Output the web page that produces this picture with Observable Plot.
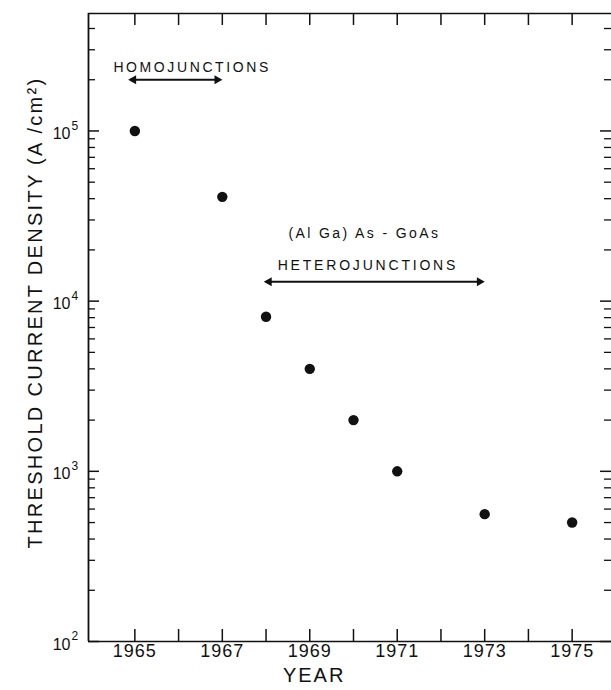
<!DOCTYPE html>
<html><head><meta charset="utf-8">
<script src="https://cdn.jsdelivr.net/npm/d3@7"></script>
<script src="https://cdn.jsdelivr.net/npm/@observablehq/plot@0.6"></script>
<style>
html,body{margin:0;padding:0;background:#fff;overflow:hidden}
svg{display:block}
</style></head><body><div id="chart"></div>
<script>
// ---- data ----
const years = [1965, 1967, 1968, 1969, 1970, 1971, 1973, 1975];
const thresholdDensity = [1.0e5, 4.1e4, 8.1e3, 4.0e3, 2.0e3, 1.0e3, 560, 500];

const xTickYears = [1965, 1966, 1967, 1968, 1969, 1970, 1971, 1972, 1973, 1974, 1975];
const xTickLabels = [1965, 1967, 1969, 1971, 1973, 1975];
const yMajorTicks = [1e2, 1e3, 1e4, 1e5];
const yExponents = ["2", "3", "4", "5"];
const yMinorTicks = [
  200, 300, 400, 500, 600, 700, 800, 900,
  2000, 3000, 4000, 5000, 6000, 7000, 8000, 9000,
  20000, 30000, 40000, 50000, 60000, 70000, 80000, 90000,
  200000, 300000, 400000
];

const noteTexts = ["HOMOJUNCTIONS", "(Al Ga) As - GoAs", "HETEROJUNCTIONS"];
const noteYears = [1966.31, 1970.25, 1970.33];
const noteValues = [2.37e5, 2.49e4, 1.62e4];

const spanStartYears = [1964.9, 1968.0];
const spanEndYears = [1966.95, 1972.95];
const spanValues = [2.0e5, 1.3e4];

const xDomain = [1963.94, 1975.9];
const yDomain = [100, 4.9e5];

const xTitle = "YEAR";
const yTitle = "THRESHOLD CURRENT DENSITY (A /cm²)";

// ---- layout ----
const W = 611, H = 690;
const mL = 88, mR = 0, mT = 13, mB = 49;
const fW = W - mL - mR, fH = H - mT - mB;

const points = years.map((y, i) => ({year: y, density: thresholdDensity[i]}));
const spans = spanStartYears.map((s, i) => ({start: s, end: spanEndYears[i], v: spanValues[i]}));
const notes = noteTexts.map((t, i) => ({text: t, year: noteYears[i], v: noteValues[i]}));

const ink = "#111";
const chart = Plot.plot({
  width: W, height: H,
  marginLeft: mL, marginRight: mR, marginTop: mT, marginBottom: mB,
  style: {fontFamily: "'Liberation Sans', Arial, sans-serif", background: "white", color: ink},
  x: {domain: xDomain, axis: null},
  y: {type: "log", domain: yDomain, axis: null},
  marks: [
    // frame (left, bottom, top)
    Plot.ruleX([xDomain[0]], {stroke: ink, strokeWidth: 1.8}),
    Plot.ruleY([yDomain[0], yDomain[1]], {stroke: ink, strokeWidth: 1.6}),
    // inward ticks
    Plot.tickX(xTickYears, {x: d => d, insetTop: fH - 12, stroke: ink, strokeWidth: 1.5}),
    Plot.tickX(xTickYears, {x: d => d, insetBottom: fH - 12, stroke: ink, strokeWidth: 1.5}),
    Plot.tickY(yMajorTicks, {y: d => d, insetRight: fW - 11, stroke: ink, strokeWidth: 1.5}),
    Plot.tickY(yMinorTicks, {y: d => d, insetRight: fW - 7, stroke: ink, strokeWidth: 1.3}),
    Plot.tickY(yMajorTicks, {y: d => d, insetLeft: fW - 11, stroke: ink, strokeWidth: 1.5}),
    Plot.tickY(yMinorTicks, {y: d => d, insetLeft: fW - 7, stroke: ink, strokeWidth: 1.3}),
    // tick labels
    Plot.text(xTickLabels, {x: d => d, frameAnchor: "bottom", dy: 15, text: d => String(d), fontSize: 18, fill: ink}),
    Plot.text(yMajorTicks, {x: xDomain[0], y: d => d, text: () => "10", textAnchor: "end", dx: -18, dy: 3, fontSize: 16, fill: ink}),
    Plot.text(yMajorTicks, {x: xDomain[0], y: d => d, text: (d, i) => yExponents[i], textAnchor: "start", dx: -17, dy: -5, fontSize: 12, fill: ink}),
    // axis titles
    Plot.text([xTitle], {x: () => 1969.1, frameAnchor: "bottom", dy: 40, text: d => d, fontSize: 20, fill: ink}),
    Plot.text([yTitle], {frameAnchor: "left", textAnchor: "middle", rotate: -90, dx: -53, dy: -15, text: d => d, fontSize: 20, fill: ink}),
    // annotations
    Plot.link(spans, {x1: "start", x2: "end", y1: "v", y2: "v", stroke: ink, strokeWidth: 2}),
    Plot.dot(spans, {x: "start", y: "v", symbol: "triangle", rotate: -90, r: 3.4, dx: 3, fill: ink, stroke: "none"}),
    Plot.dot(spans, {x: "end", y: "v", symbol: "triangle", rotate: 90, r: 3.4, dx: -3, fill: ink, stroke: "none"}),
    Plot.text(notes, {x: "year", y: "v", text: "text", fontSize: 14, fill: ink}),
    // data points
    Plot.dot(points, {x: "year", y: "density", r: 5.2, fill: ink, stroke: "none"})
  ]
});
document.getElementById("chart").appendChild(chart);

// letter spacing of the hand lettering
const spacing = {"HOMOJUNCTIONS": 2.6, "HETEROJUNCTIONS": 2.8, "(Al Ga) As - GoAs": 2.4, "YEAR": 2};
d3.select(chart).selectAll("text").each(function () {
  const t = this.textContent;
  if (spacing[t] != null) this.setAttribute("letter-spacing", spacing[t]);
  else if (/^19\d\d$/.test(t)) this.setAttribute("letter-spacing", 1);
  else if (t === yTitle) this.setAttribute("letter-spacing", 2.3);
});
</script></body></html>
